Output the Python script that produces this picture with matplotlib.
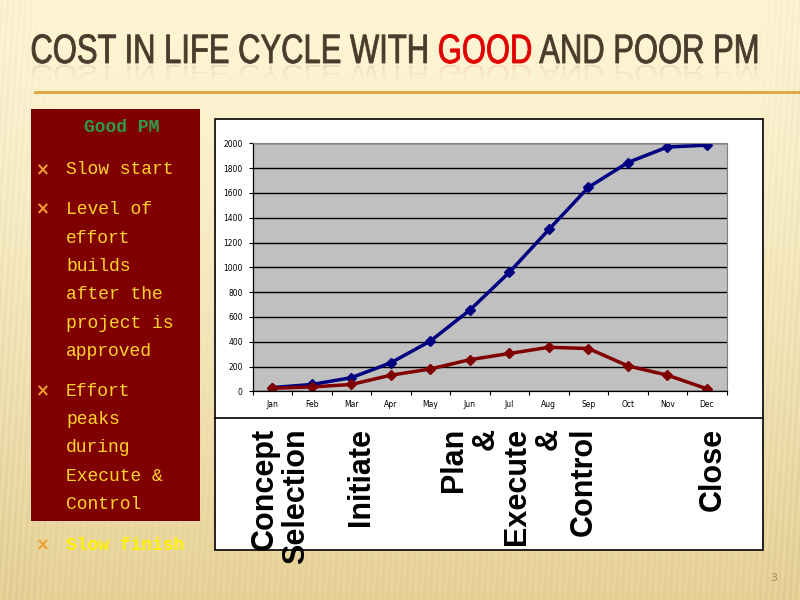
import numpy as np
import matplotlib
matplotlib.use("Agg")
import matplotlib.pyplot as plt
from matplotlib.patches import Rectangle, PathPatch
from matplotlib.path import Path
from matplotlib.textpath import TextPath
from matplotlib.font_manager import FontProperties

## data

months = ['Jan', 'Feb', 'Mar', 'Apr', 'May', 'Jun', 'Jul', 'Aug', 'Sep', 'Oct', 'Nov', 'Dec']
good_pm = [30, 55, 110, 230, 405, 655, 960, 1305, 1645, 1845, 1970, 1985]
poor_pm = [25, 35, 55, 130, 180, 255, 305, 355, 345, 205, 130, 20]

title_pre = "COST IN LIFE CYCLE WITH"
title_red = "GOOD"
title_post = "AND POOR PM"
bullets = [["Slow start"],
           ["Level of", "effort", "builds", "after the", "project is", "approved"],
           ["Effort", "peaks", "during", "Execute &", "Control"]]
last_bullet = "Slow finish"
phases = ["Concept", "Selection", "Initiate", "Plan", "&", "Execute", "&", "Control", "Close"]
phase_x = [265, 296, 361, 454, 486, 517, 549, 584, 713]

W, H = 800, 600

def box(x0, y0, x1, y1):
    # pixel box (top-left origin) -> figure fraction rect
    return [x0 / W, 1 - y1 / H, (x1 - x0) / W, (y1 - y0) / H]

fig = plt.figure(figsize=(8, 6), dpi=100)

## slide layer in pixel coords, y going down
sl = fig.add_axes([0, 0, 1, 1], zorder=-10)
sl.set_xlim(0, W)
sl.set_ylim(H, 0)
sl.axis('off')

yy = np.linspace(0, 1, H)[:, None]
xx = np.arange(W)[None, :]
top = np.array([254, 245, 212]) / 255
bot = np.array([233, 212, 152]) / 255
w = yy ** 1.4
base = top * (1 - w[..., None]) + bot * w[..., None]
edge = np.clip(np.maximum(np.abs(xx - W / 2) / (W / 2) - 0.85, 0) * 4 + w * 0.5, 0, 1)
stripes = 1 - 0.05 * edge[..., None] * (0.5 + 0.5 * np.sin(2 * np.pi * (xx + yy * 40) / 6))[..., None]
sl.imshow(np.clip(base * stripes, 0, 1), extent=[0, W, H, 0], aspect='auto', zorder=0)

## title as a condensed text path
prop = FontProperties(family='Liberation Sans')
full = title_pre + " " + title_red + " " + title_post
tp = TextPath((0, 0), full, size=41, prop=prop)
end_pre = TextPath((0, 0), title_pre, size=41, prop=prop).get_extents().xmax
end_red = TextPath((0, 0), title_pre + " " + title_red, size=41, prop=prop).get_extents().xmax
ext = tp.get_extents()
sx = (757 - 32) / (ext.xmax - ext.xmin)
verts, codes = tp.vertices, tp.codes
starts = list(np.where(codes == Path.MOVETO)[0]) + [len(codes)]
groups = {'#4A3B2C': ([], []), '#E00000': ([], [])}
for a, b in zip(starts[:-1], starts[1:]):
    seg = verts[a:b]
    cx = seg[:, 0].mean()
    key = '#E00000' if end_pre < cx < end_red + 1 else '#4A3B2C'
    groups[key][0].append(seg)
    groups[key][1].append(codes[a:b])
for c, (vs, cs) in groups.items():
    v = np.concatenate(vs).copy()
    v[:, 0] = 32 + (v[:, 0] - ext.xmin) * sx
    v_main = v.copy()
    v_main[:, 1] = 63 - v[:, 1]
    sl.add_patch(PathPatch(Path(v_main, np.concatenate(cs)), facecolor=c, edgecolor=c,
                           lw=0.6, zorder=5))
    # faint reflection, fading out in bands
    for y0, al in [(64, 0.10), (69, 0.06), (74, 0.03)]:
        v_ref = v.copy()
        v_ref[:, 1] = 65 + v[:, 1] * 0.6
        rp = PathPatch(Path(v_ref, np.concatenate(cs)), facecolor=c, edgecolor='none',
                       alpha=al, zorder=4)
        sl.add_patch(rp)
        rp.set_clip_path(Rectangle((0, y0), W, 5, transform=sl.transData))

sl.plot([35, W], [92, 92], color='#E3A33A', lw=2, zorder=5)

## left text box
sl.add_patch(Rectangle((31, 109), 169, 412, facecolor='#800000', edgecolor='none', zorder=5))
sl.text(122, 127, "Good PM", fontsize=13, color='#2E9B4A', fontweight='bold',
        family='Liberation Mono', ha='center', va='center', zorder=6)

mono = 'Liberation Mono'
yellow = '#FFD42A'
y = 170
for lines in bullets:
    sl.text(43, y, "\u00d7", fontsize=12, color='#F0A030', fontweight='bold',
            ha='center', va='center', zorder=6)
    for ln in lines:
        sl.text(66, y, ln, fontsize=13, color=yellow, family=mono,
                ha='left', va='center', zorder=6)
        y += 28.3
    y += 11.5
sl.text(43, 545, "\u00d7", fontsize=12, color='#F0A030', fontweight='bold',
        ha='center', va='center', zorder=6)
sl.text(66, 545, last_bullet, fontsize=13, color='#FFF200', family=mono,
        ha='left', va='center', fontweight='bold', zorder=6)

## chart frame
sl.add_patch(Rectangle((215, 119), 548, 431, facecolor='white', edgecolor='black',
                       lw=1.2, zorder=5))
sl.plot([215, 763], [418, 418], color='black', lw=1.2, zorder=6)

## plot area
ax = fig.add_axes(box(252.5, 143.3, 726.7, 391.3))
ax.set_facecolor('#C0C0C0')
xs = np.arange(len(months))
ax.plot(xs, good_pm, color='#000080', lw=2.5, marker='D', markersize=5)
ax.plot(xs, poor_pm, color='#800000', lw=2.5, marker='D', markersize=5)
ax.set_xlim(-0.5, len(months) - 0.5)
ax.set_ylim(0, 2000)
ax.set_yticks(np.arange(0, 2001, 200))
ax.yaxis.grid(True, color='black', lw=1)
ax.set_axisbelow(True)
ax.set_xticks(xs)
ax.set_xticklabels(months)
ax.set_xticks(np.arange(-0.5, len(months)), minor=True)
ax.tick_params(axis='x', which='major', length=0, pad=6, labelsize=5.5)
ax.tick_params(axis='x', which='minor', length=3, direction='out', width=0.8)
ax.tick_params(axis='y', length=3, width=0.8, labelsize=5.5, pad=4)
for s in ['top', 'right']:
    ax.spines[s].set_color('#808080')
for s in ['left', 'bottom']:
    ax.spines[s].set_color('black')
    ax.spines[s].set_linewidth(0.9)

## phase labels under the chart
for label, px in zip(phases, phase_x):
    sl.text(px, 428, label, rotation=90, fontsize=22, fontweight='bold',
            family='Liberation Sans', ha='center', va='top', color='black', zorder=7)

## page number
sl.text(774, 578, "3", fontsize=8, color='#B08A50', ha='center', va='center', zorder=6)

fig.savefig("out.png", dpi=100)
